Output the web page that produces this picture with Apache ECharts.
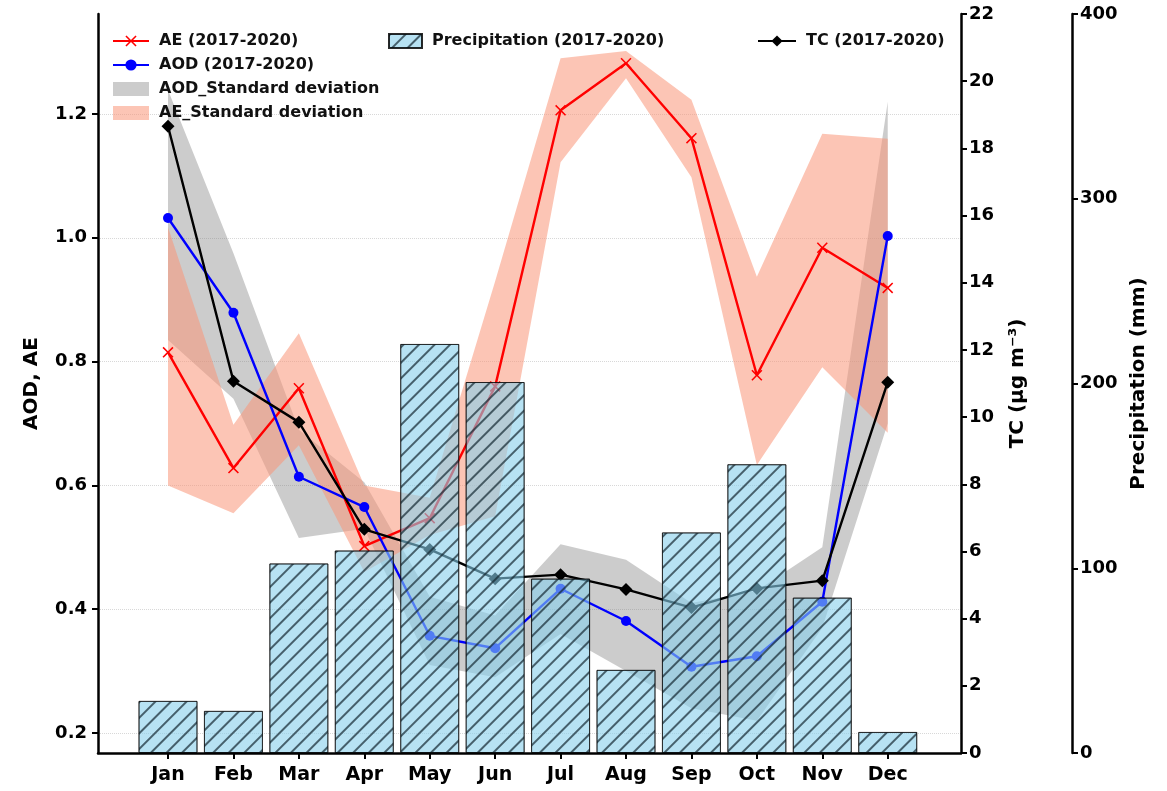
<!DOCTYPE html>
<html><head><meta charset="utf-8">
<script src="https://cdn.jsdelivr.net/npm/echarts@6/dist/echarts.min.js"></script>
<style>html,body{margin:0;padding:0;background:#fff}#c{width:1167px;height:791px}</style>
</head><body><div id="c"></div>
<script>
const months = ['Jan','Feb','Mar','Apr','May','Jun','Jul','Aug','Sep','Oct','Nov','Dec'];
const aeMean  = [0.815, 0.628, 0.757, 0.502, 0.547, 0.760, 1.206, 1.282, 1.161, 0.778, 0.984, 0.919];
const aodMean = [1.032, 0.879, 0.614, 0.565, 0.357, 0.337, 0.433, 0.381, 0.307, 0.324, 0.412, 1.003];
const tcMean  = [18.66, 11.07, 9.85, 6.66, 6.06, 5.19, 5.31, 4.87, 4.33, 4.90, 5.13, 11.04];
const precip  = [28.2, 22.8, 102.6, 109.6, 221.4, 200.8, 94.4, 45.0, 119.4, 156.3, 84.1, 11.4];
const aodLow  = [0.835, 0.740, 0.515, 0.530, 0.310, 0.290, 0.360, 0.300, 0.240, 0.220, 0.370, 0.700];
const aodHigh = [1.239, 0.975, 0.690, 0.605, 0.420, 0.390, 0.505, 0.480, 0.410, 0.430, 0.500, 1.220];
const aeLow   = [0.600, 0.555, 0.665, 0.460, 0.520, 0.550, 1.122, 1.258, 1.098, 0.633, 0.791, 0.685];
const aeHigh  = [1.017, 0.698, 0.846, 0.600, 0.580, 0.930, 1.290, 1.302, 1.223, 0.937, 1.168, 1.160];
const leftTicks = [0.2, 0.4, 0.6, 0.8, 1.0, 1.2];
const monthIdx = months.map((m, i) => i);

const FONT = 'DejaVu Sans';
const xSymbol = 'path://M0,1 L1,0 L5,4 L9,0 L10,1 L6,5 L10,9 L9,10 L5,6 L1,10 L0,9 L4,5 Z';

function band(name, low, high, color) {
  return {
    name: name, type: 'custom', xAxisIndex: 0, yAxisIndex: 0, z: 1, silent: true,
    itemStyle: { color: color },
    data: monthIdx.map(i => [i, low[i], high[i]]),
    encode: { x: 0, y: [1, 2] },
    renderItem: function (params, api) {
      if (params.dataIndex !== 0) return null;
      const pts = [];
      for (let i = 0; i < low.length; i++) pts.push(api.coord([i, high[i]]));
      for (let i = low.length - 1; i >= 0; i--) pts.push(api.coord([i, low[i]]));
      return { type: 'polygon', shape: { points: pts }, style: { fill: color } };
    }
  };
}

const axisLineStyle = { color: '#000', width: 2.5 };
const tickStyle = { color: '#000', width: 2 };
const labelStyle = { fontFamily: FONT, fontWeight: 'bold', fontSize: 18, color: '#000' };
const nameStyle = { fontFamily: FONT, fontWeight: 'bold', fontSize: 20, color: '#000' };
const legendText = { fontFamily: FONT, fontWeight: 'bold', fontSize: 16, color: '#111', padding: [0, 0, 0, 5] };

const chart = echarts.init(document.getElementById('c'));
chart.setOption({
  animation: false,
  backgroundColor: '#fff',
  grid: { left: 98, right: 206, top: 14, bottom: 38 },
  legend: [
    { left: 112, top: 33, padding: 0, orient: 'vertical', itemWidth: 36, itemHeight: 14, itemGap: 8,
      textStyle: legendText,
      data: [{ name: 'AE (2017-2020)' }, { name: 'AOD (2017-2020)' },
             { name: 'AOD_Standard deviation', icon: 'rect' }, { name: 'AE_Standard deviation', icon: 'rect' }] },
    { left: 388, top: 33, padding: 0, itemWidth: 33, itemHeight: 14, textStyle: legendText,
      data: [{ name: 'Precipitation (2017-2020)', icon: 'rect' }] },
    { left: 757, top: 33, padding: 0, itemWidth: 38, itemHeight: 14, textStyle: legendText,
      data: [{ name: 'TC (2017-2020)' }] }
  ],
  xAxis: {
    type: 'value', min: -1.07, max: 12.12,
    axisLine: { onZero: false, lineStyle: axisLineStyle },
    axisTick: { customValues: monthIdx, length: 6, lineStyle: tickStyle },
    axisLabel: { customValues: monthIdx, margin: 13, fontSize: 19, fontFamily: FONT, fontWeight: 'bold', color: '#000',
      formatter: v => months[Math.round(v)] },
    splitLine: { show: false }
  },
  yAxis: [
    { type: 'value', min: 0.1677, max: 1.3616, position: 'left',
      name: 'AOD, AE', nameLocation: 'middle', nameRotate: 90, nameGap: 56, nameTextStyle: nameStyle,
      axisLine: { show: true, onZero: false, lineStyle: axisLineStyle },
      axisTick: { show: true, customValues: leftTicks, length: 6, lineStyle: tickStyle },
      axisLabel: Object.assign({ customValues: leftTicks, margin: 11, formatter: v => v.toFixed(1) }, labelStyle),
      splitLine: { show: false } },
    { type: 'value', min: 0, max: 22, interval: 2, position: 'right',
      name: 'TC (μg m⁻³)', nameLocation: 'middle', nameRotate: 90, nameGap: 47, nameTextStyle: nameStyle,
      axisLine: { show: true, onZero: false, lineStyle: axisLineStyle },
      axisTick: { show: true, length: 6, lineStyle: tickStyle },
      axisLabel: Object.assign({ margin: 8 }, labelStyle),
      splitLine: { show: false } },
    { type: 'value', min: 0, max: 400, interval: 100, position: 'right', offset: 111,
      name: 'Precipitation (mm)', nameLocation: 'middle', nameRotate: 90, nameGap: 55, nameTextStyle: nameStyle,
      axisLine: { show: true, onZero: false, lineStyle: axisLineStyle },
      axisTick: { show: true, length: 6, lineStyle: tickStyle },
      axisLabel: Object.assign({ margin: 8 }, labelStyle),
      splitLine: { show: false } }
  ],
  series: [
    band('AOD_Standard deviation', aodLow, aodHigh, 'rgba(128,128,128,0.4)'),
    band('AE_Standard deviation', aeLow, aeHigh, 'rgba(250,150,120,0.55)'),
    { name: 'AE (2017-2020)', type: 'line', xAxisIndex: 0, yAxisIndex: 0, z: 3,
      data: monthIdx.map(i => [i, aeMean[i]]),
      symbol: xSymbol, symbolSize: 11, showAllSymbol: true,
      itemStyle: { color: '#ff0000' }, lineStyle: { color: '#ff0000', width: 2.4 },
      markLine: { silent: true, symbol: 'none', z: 0, label: { show: false },
        lineStyle: { color: '#d8d8d8', type: 'dotted', width: 1 },
        data: leftTicks.map(t => ({ yAxis: t })) } },
    { name: 'AOD (2017-2020)', type: 'line', xAxisIndex: 0, yAxisIndex: 0, z: 3,
      data: monthIdx.map(i => [i, aodMean[i]]),
      symbol: 'circle', symbolSize: 10, showAllSymbol: true,
      itemStyle: { color: '#0000ff' }, lineStyle: { color: '#0000ff', width: 2.4 } },
    { name: 'TC (2017-2020)', type: 'line', xAxisIndex: 0, yAxisIndex: 1, z: 4,
      data: monthIdx.map(i => [i, tcMean[i]]),
      symbol: 'diamond', symbolSize: 13, showAllSymbol: true,
      itemStyle: { color: '#000' }, lineStyle: { color: '#000', width: 2.4 } },
    { name: 'Precipitation (2017-2020)', type: 'bar', xAxisIndex: 0, yAxisIndex: 2, z: 6,
      data: monthIdx.map(i => [i, precip[i]]), barWidth: 59,
      itemStyle: { color: 'rgba(135,206,235,0.6)', borderColor: 'rgba(0,0,0,0.6)', borderWidth: 1,
        decal: { symbol: 'rect', symbolSize: 1, color: 'rgba(20,40,50,0.7)',
                 dashArrayX: [1, 0], dashArrayY: [1.2, 8.2], rotation: -Math.PI / 4 } } }
  ]
});
</script></body></html>
